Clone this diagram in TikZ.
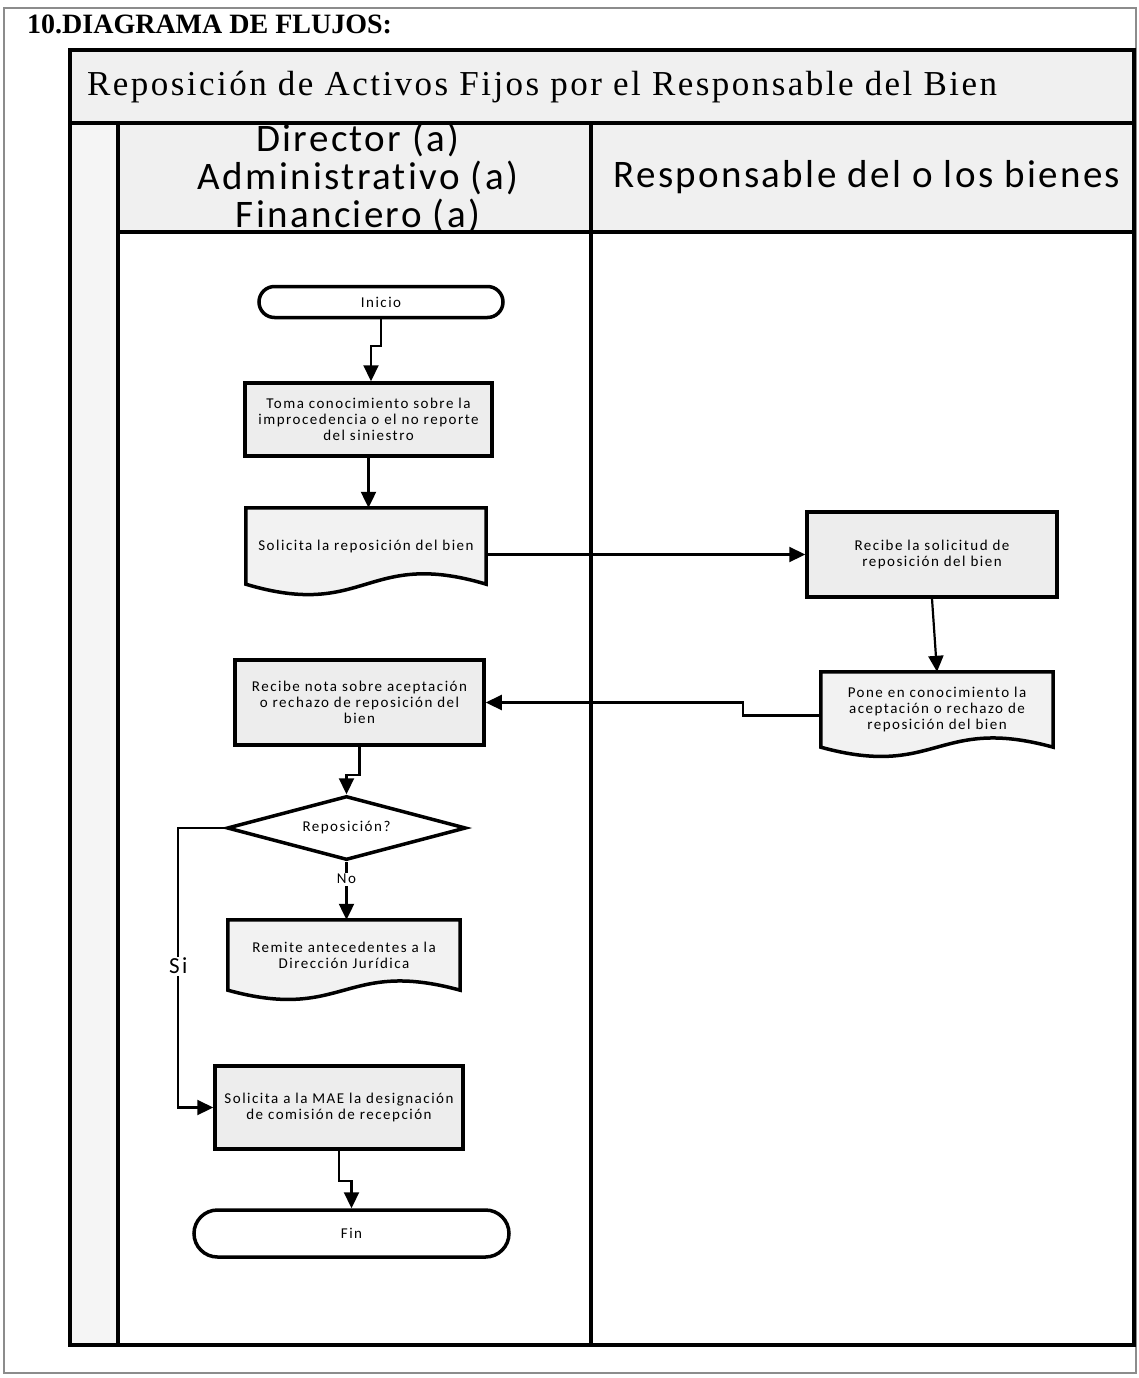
\documentclass[tikz,border=0pt]{standalone}
\usepackage{fontspec}
\setmainfont{Liberation Serif}
\newfontfamily\titlefont{Liberation Serif}[LetterSpace=7]
\newfontfamily\lanefont{Carlito}[LetterSpace=6, Ligatures={NoCommon}]
\newfontfamily\boxfont{Carlito}[LetterSpace=10, Ligatures={NoCommon}]
\usetikzlibrary{shapes.misc,shapes.geometric,arrows.meta,calc}
\pgfdeclarelayer{back}
\pgfdeclarelayer{mid}
\pgfsetlayers{back,mid,main}

\tikzset{
  frame/.style={draw=black, line width=4pt},
  boxtxt/.style={font=\boxfont\fontsize{15}{16}\selectfont, align=center},
  procbox/.style={rectangle, draw=black, line width=3.5pt, fill=black!7, inner sep=2pt, boxtxt},
  docbox/.style={rectangle, draw=none, inner sep=2pt, boxtxt},
  docline/.style={draw=black, line width=3.5pt, fill=black!5, line join=miter},
  termbox/.style={rounded rectangle, draw=black, line width=3.5pt, fill=white, inner sep=2pt, boxtxt},
  decision/.style={diamond, shape aspect=3.7, draw=black, line width=3.5pt, fill=white, inner sep=0pt, boxtxt},
  flow/.style={line width=2.2pt, line join=miter, -{Triangle[length=16pt,width=15pt]}},
  lbl/.style={fill=white, inner sep=1.5pt, font=\boxfont\fontsize{15}{16}\selectfont},
  biglbl/.style={fill=white, inner sep=1.5pt, font=\boxfont\fontsize{23}{24}\selectfont}
}

% outline of a document symbol around a named node: #2 sets the wave depth
\newcommand\docoutline[2]{%
  \begin{pgfonlayer}{mid}
    \draw[docline] (#1.south east) -- (#1.north east) -- (#1.north west) -- (#1.south west)
      .. controls ($(#1.south)+(0,#2)$) and ($(#1.south)+(0,-#2)$) .. (#1.south east) -- cycle;
  \end{pgfonlayer}}

\begin{document}
\begin{tikzpicture}[x=1pt,y=-1pt]
\useasboundingbox (0,0) rectangle (1139,1378);

% page frame and heading
\draw[black!45, line width=1.2pt] (4,8) rectangle (1136,1373);
\node[anchor=base west, font=\bfseries\fontsize{28}{30}\selectfont, inner sep=0pt] (heading) at (27,34) {10.DIAGRAMA DE FLUJOS:};

% swimlane table
\begin{pgfonlayer}{back}
  \fill[black!6] (70,50) rectangle (1134,123);
  \fill[black!6] (118,123) rectangle (1134,232);
  \fill[black!4] (70,123) rectangle (118,1345);
\end{pgfonlayer}
\draw[frame] (70,50) rectangle (1134,1345);
\draw[frame] (70,123) -- (1134,123);
\draw[frame] (118,232) -- (1134,232);
\draw[frame] (118,123) -- (118,1345);
\draw[frame] (591,123) -- (591,1345);

\node[anchor=west, font=\titlefont\fontsize{35}{38}\selectfont, inner sep=0pt] (title) at (87,87)
  {Reposición de Activos Fijos por el Responsable del Bien};
\node[align=center, font=\lanefont\fontsize{39}{38}\selectfont] (lane1) at (358,178)
  {Director (a)\\Administrativo (a)\\Financiero (a)};
\node[font=\lanefont\fontsize{39}{38}\selectfont] (lane2) at (867,177)
  {Responsable del o los bienes};

% flow symbols
\node[termbox, minimum width=248pt, minimum height=31pt] (ini) at (381,302) {Inicio};
\node[procbox, minimum width=247pt, minimum height=73pt] (toma) at (368.5,419.5)
  {Toma conocimiento sobre la\\improcedencia o el no reporte\\del siniestro};
\node[docbox, minimum width=240pt, minimum height=76pt] (sol) at (366,546)
  {Solicita la reposición del bien};
\docoutline{sol}{36}
\node[procbox, minimum width=250pt, minimum height=85pt] (rsol) at (932,554.5)
  {Recibe la solicitud de\\reposición del bien};
\node[docbox, minimum width=232pt, minimum height=75pt] (pone) at (937,709.5)
  {Pone en conocimiento la\\aceptación o rechazo de\\reposición del bien};
\docoutline{pone}{32}
\node[procbox, minimum width=249pt, minimum height=85pt] (nota) at (359.5,702.5)
  {Recibe nota sobre aceptación\\o rechazo de reposición del\\bien};
\node[decision, minimum width=239pt, minimum height=64pt] (dia) at (346.5,828) {Reposición?};
\node[docbox, minimum width=232pt, minimum height=70pt] (rem) at (344,955)
  {Remite antecedentes a la\\Dirección Jurídica};
\docoutline{rem}{32}
\node[procbox, minimum width=248pt, minimum height=83pt] (mae) at (339,1107.5)
  {Solicita a la MAE la designación\\de comisión de recepción};
\node[termbox, minimum width=319pt, minimum height=47pt] (fin) at (351.5,1233.5) {Fin};

% connectors
\draw[flow] (ini.south) -- ++(0,27) -| ($(toma.north)+(2.5,0)$);
\draw[flow] (toma.south) -- (toma.south |- sol.north);
\draw[flow] (rsol.west -| sol.east) -- (rsol.west);
\draw[flow] (rsol.south) -- (pone.north);
\draw[flow] ($(pone.west)+(0,6)$) -- ++(-78,0) |- (nota.east);
\draw[flow] (nota.south) -- ++(0,28) -| (dia.north);
\draw[flow] (dia.south) -- node[lbl, pos=0.3] {No} (dia.south |- rem.north);
\draw[flow] (dia.west) -- ++(-47,0) |- node[biglbl, pos=0.247] {Si} (mae.west);
\draw[flow] (mae.south) -- ++(0,30) -| (fin.north);
\end{tikzpicture}
\end{document}
